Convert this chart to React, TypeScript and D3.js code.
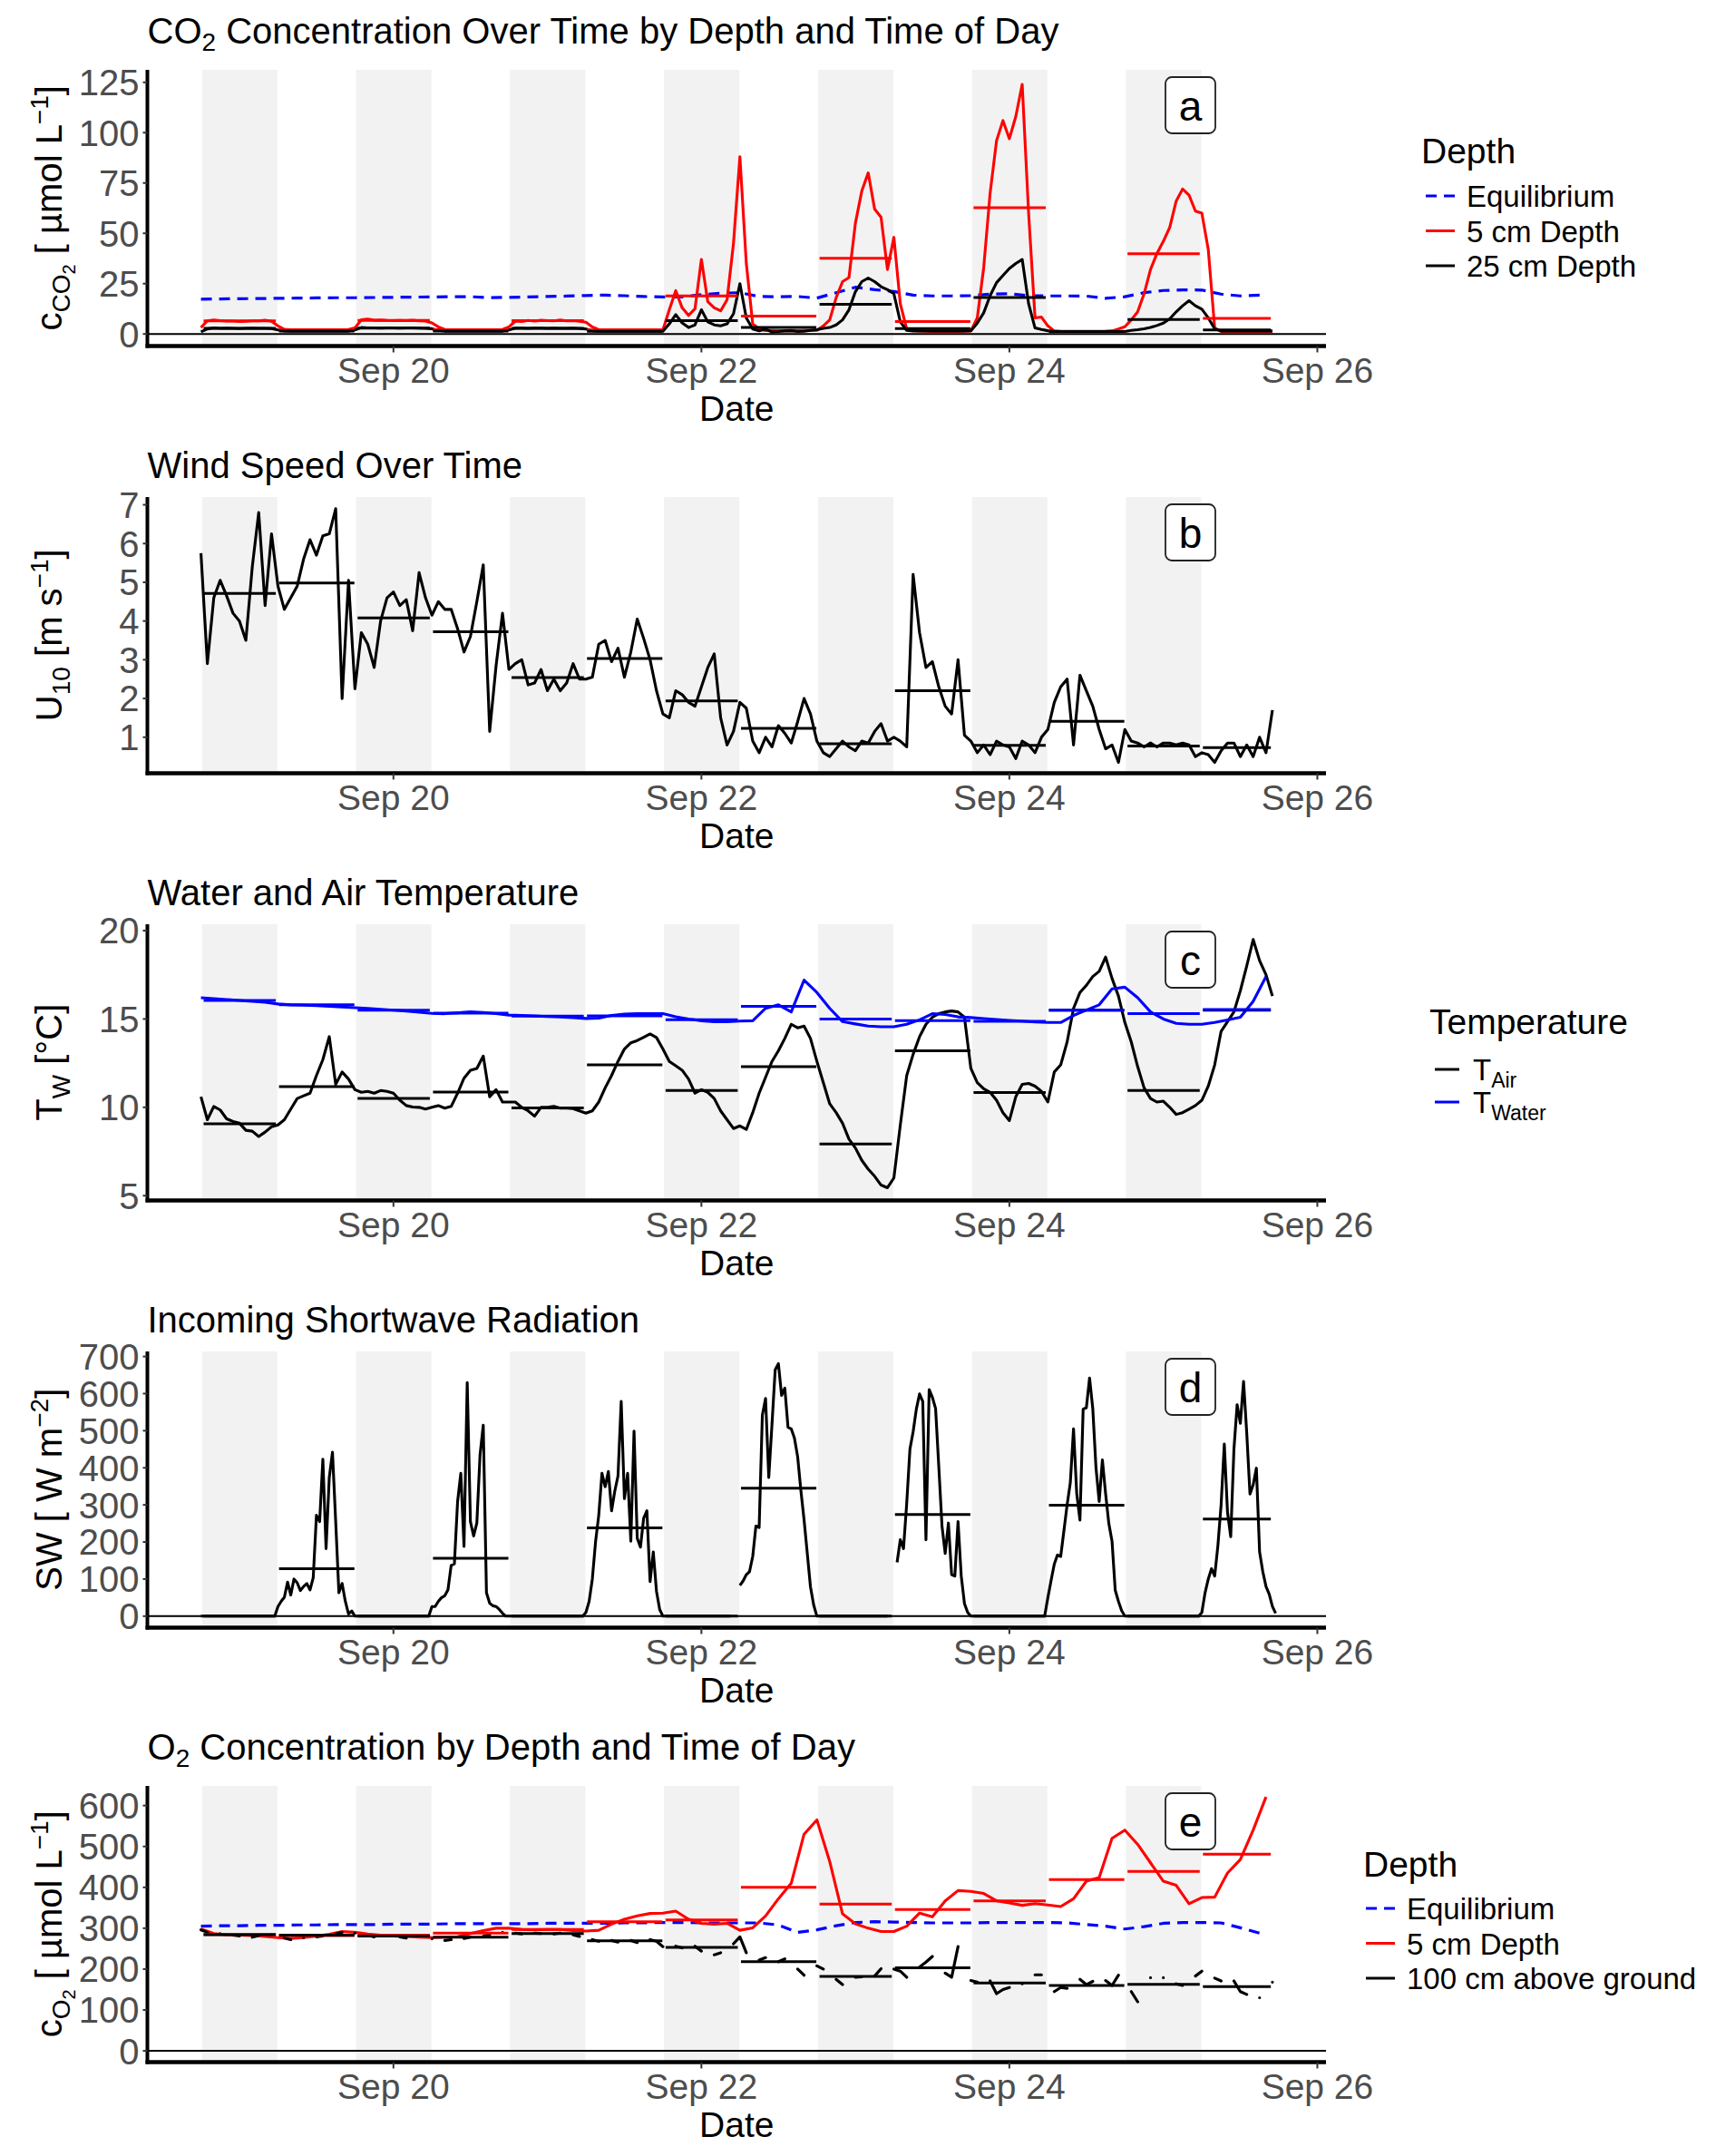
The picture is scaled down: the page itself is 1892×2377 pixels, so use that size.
import React, { useRef, useEffect } from 'react';
import * as d3 from 'd3';

// hours are counted from 18 Sep 18:00 (first sample)
const T0 = Date.UTC(2023, 8, 18, 18, 0);
const HOUR = 3600 * 1000;
const dataEndHour = 167;

const sunsets = [
  '2023-09-18T18:10:00Z', '2023-09-19T18:10:00Z', '2023-09-20T18:10:00Z', '2023-09-21T18:10:00Z',
  '2023-09-22T18:10:00Z', '2023-09-23T18:10:00Z', '2023-09-24T18:10:00Z',
];
const sunrises = [
  '2023-09-19T05:55:00Z', '2023-09-20T05:55:00Z', '2023-09-21T05:55:00Z', '2023-09-22T05:55:00Z',
  '2023-09-23T05:55:00Z', '2023-09-24T05:55:00Z', '2023-09-25T05:55:00Z',
];
const dateTicks = ['2023-09-20T00:00:00Z', '2023-09-22T00:00:00Z', '2023-09-24T00:00:00Z', '2023-09-26T00:00:00Z'];

// ---- panel a: CO2 (hourly / 3-hourly) ----
const co2Shallow = [
  3.2, 6.5, 6.9, 6.6, 6.4, 6.4, 6.2, 6.3, 6.5, 6.5,
  6.8, 6.3, 4.0, 2.3, 2.1, 2.1, 2.0, 2.1, 2.1, 2.0,
  2.0, 2.1, 2.1, 2.2, 3.0, 7.0, 7.4, 6.8, 6.9, 6.7,
  6.6, 6.7, 6.6, 6.8, 6.5, 6.4, 5.5, 3.5, 2.2, 2.1,
  2.1, 2.0, 2.1, 2.1, 2.0, 2.1, 2.0, 2.2, 3.5, 6.4,
  6.2, 6.7, 6.4, 6.8, 6.6, 6.5, 6.9, 6.5, 6.6, 6.3,
  5.8, 3.5, 2.1, 2.0, 2.0, 2.0, 2.0, 2.0, 2.0, 2.0,
  2.0, 2.0, 2.0, 12.0, 21.5, 13.0, 9.2, 12.5, 37.0, 16.0,
  13.0, 11.5, 17.0, 45.0, 88.0, 35.0, 5.0, 2.5, 1.7, 1.7,
  1.6, 1.6, 1.7, 1.6, 1.7, 1.8, 1.8, 4.0, 7.0, 18.0,
  26.0, 28.0, 55.0, 71.0, 80.0, 62.0, 58.0, 32.0, 48.0, 15.0,
  2.5, 1.7, 1.5, 1.3, 1.2, 1.2, 1.2, 1.2, 1.2, 1.3,
  1.5, 8.0, 33.0, 70.0, 96.0, 106.0, 97.0, 108.0, 124.0, 60.0,
  8.0, 8.4, 4.0, 1.5, 1.2, 1.2, 1.2, 1.2, 1.2, 1.2,
  1.2, 1.3, 1.5, 2.5, 3.6, 7.0, 11.0, 20.0, 32.0, 40.0,
  46.0, 53.0, 66.0, 72.0, 69.0, 61.0, 60.0, 42.0, 3.0, 1.2,
  1.2, 1.2, 1.2, 1.2, 1.2, 1.2, 1.2, 1.2,
];
const co2Deep = [
  1.0, 2.5, 3.0, 2.8, 2.9, 2.8, 2.7, 2.8, 2.9, 2.8,
  2.8, 2.7, 2.0, 1.5, 1.4, 1.4, 1.4, 1.4, 1.4, 1.4,
  1.4, 1.4, 1.4, 1.4, 2.0, 3.2, 3.0, 3.0, 2.9, 3.0,
  3.0, 2.9, 3.0, 3.0, 2.9, 2.8, 2.6, 1.8, 1.4, 1.4,
  1.4, 1.4, 1.4, 1.4, 1.4, 1.4, 1.4, 1.4, 2.0, 2.9,
  2.9, 2.8, 2.9, 2.9, 2.8, 2.9, 2.8, 2.8, 2.9, 2.7,
  2.5, 1.6, 1.3, 1.3, 1.3, 1.3, 1.3, 1.3, 1.3, 1.3,
  1.3, 1.3, 1.3, 5.0, 9.6, 5.5, 3.2, 4.5, 12.0, 6.0,
  4.5, 4.0, 5.0, 10.0, 25.0, 8.0, 2.4, 1.6, 2.4, 1.0,
  1.2, 1.5, 1.6, 1.2, 1.3, 1.8, 2.1, 2.8, 3.2, 4.5,
  7.0, 12.0, 21.0, 26.0, 27.8, 26.0, 23.5, 22.0, 20.0, 6.0,
  1.8, 1.5, 1.5, 1.5, 1.5, 1.5, 1.5, 1.5, 1.5, 1.5,
  1.6, 5.4, 10.5, 19.0, 25.5, 29.0, 32.5, 35.0, 37.0, 15.0,
  3.0, 2.2, 1.6, 1.2, 1.2, 1.2, 1.2, 1.2, 1.2, 1.2,
  1.2, 1.2, 1.2, 1.2, 1.2, 1.8, 2.1, 2.6, 3.2, 4.2,
  5.4, 7.5, 11.0, 14.0, 16.5, 14.0, 12.3, 8.0, 2.6, 1.5,
  1.5, 1.5, 1.5, 1.5, 1.5, 1.5, 1.5, 1.5,
];
const co2Equilibrium = [
  17.3, 17.4, 17.5, 17.6, 17.7, 17.8, 17.9, 18.0, 18.0, 18.1,
  18.2, 18.3, 18.4, 18.5, 18.5, 18.0, 18.2, 18.4, 18.6, 18.8,
  19.1, 19.3, 19.0, 18.6, 18.4, 18.4, 19.5, 20.3, 20.5, 18.6,
  18.5, 18.6, 17.8, 20.5, 23.2, 22.0, 21.1, 19.3, 18.9, 18.9,
  19.0, 19.8, 20.0, 19.0, 18.9, 18.9, 18.8, 17.7, 18.5, 20.5,
  21.6, 21.9, 21.8, 19.8, 18.9, 19.3,
];
// means per period: night1, day1, night2, day2 ... night7, day7
const co2ShallowMean = [6.5, 2.1, 6.7, 2.1, 6.6, 2.0, 18.9, 8.9, 37.6, 6.2, 62.7, 1.3, 39.9, 7.7];
const co2DeepMean = [2.8, 1.4, 2.9, 1.4, 2.8, 1.3, 6.6, 3.2, 14.7, 2.7, 18.1, 1.2, 7.2, 2.0];

// ---- panel b: wind speed (hourly) ----
const windSpeed = [
  5.75, 2.9, 4.6, 5.05, 4.65, 4.2, 4.0, 3.5, 5.4, 6.8,
  4.4, 6.25, 4.9, 4.3, 4.6, 4.9, 5.6, 6.1, 5.7, 6.2,
  6.25, 6.9, 2.0, 5.05, 2.25, 3.7, 3.4, 2.8, 4.0, 4.6,
  4.75, 4.4, 4.55, 3.75, 5.25, 4.6, 4.15, 4.5, 4.3, 4.3,
  3.8, 3.2, 3.6, 4.5, 5.45, 1.15, 2.85, 4.2, 2.75, 2.9,
  3.0, 2.35, 2.4, 2.75, 2.2, 2.5, 2.2, 2.4, 2.9, 2.5,
  2.5, 2.55, 3.4, 3.5, 2.95, 3.3, 2.55, 3.2, 4.05, 3.55,
  3.0, 2.2, 1.6, 1.5, 2.2, 2.1, 1.9, 1.8, 2.3, 2.8,
  3.15, 1.5, 0.8, 1.15, 1.9, 1.75, 0.9, 0.6, 1.0, 0.75,
  1.3, 1.1, 0.85, 1.4, 2.0, 1.6, 0.9, 0.6, 0.5, 0.7,
  0.9, 0.75, 0.65, 0.9, 0.85, 1.15, 1.35, 0.9, 1.0, 0.9,
  0.75, 5.2, 3.7, 2.8, 2.95, 2.3, 1.8, 1.6, 3.0, 1.05,
  0.9, 0.6, 0.8, 0.55, 0.9, 0.8, 0.75, 0.45, 0.9, 0.8,
  0.6, 1.0, 1.2, 1.9, 2.3, 2.5, 0.8, 2.6, 2.2, 1.8,
  1.2, 0.7, 0.8, 0.35, 1.2, 0.9, 0.85, 0.75, 0.85, 0.75,
  0.85, 0.85, 0.8, 0.85, 0.8, 0.5, 0.6, 0.55, 0.35, 0.65,
  0.85, 0.85, 0.5, 0.8, 0.5, 1.0, 0.6, 1.7,
];
const windMean = [4.71, 4.98, 4.08, 3.72, 2.54, 3.03, 1.94, 1.23, 0.83, 2.2, 0.79, 1.41, 0.77, 0.73];

// ---- panel c: temperatures (air hourly, water 2-hourly) ----
const airTemp = [
  10.6, 9.3, 10.05, 9.85, 9.35, 9.2, 9.1, 8.7, 8.65, 8.35,
  8.6, 8.9, 9.0, 9.3, 9.9, 10.5, 10.65, 10.8, 11.8, 12.7,
  14.0, 11.3, 12.0, 11.6, 11.0, 10.85, 10.9, 10.8, 10.95, 10.9,
  10.8, 10.4, 10.1, 10.02, 10.0, 9.9, 10.0, 10.1, 9.95, 10.05,
  10.8, 11.65, 12.1, 12.2, 12.9, 10.6, 11.0, 10.3, 10.3, 10.3,
  10.0, 9.8, 9.5, 10.0, 10.0, 10.05, 9.95, 9.95, 9.93, 9.8,
  9.67, 9.8, 10.3, 11.1, 11.8, 12.6, 13.3, 13.65, 13.78, 13.96,
  14.15, 13.95, 13.3, 12.6, 12.35, 12.1, 11.6, 10.8, 11.0, 10.85,
  10.5, 9.8, 9.3, 8.8, 8.95, 8.75, 9.7, 10.8, 11.7, 12.6,
  13.2, 13.9, 14.7, 14.5, 14.6, 13.9, 12.6, 11.4, 10.2, 9.7,
  9.1, 8.2, 7.7, 7.0, 6.5, 6.1, 5.6, 5.45, 6.0, 9.0,
  11.8, 13.0, 14.0, 14.7, 15.1, 15.3, 15.4, 15.45, 15.4, 15.1,
  12.2, 11.4, 11.05, 10.85, 10.4, 9.7, 9.25, 10.6, 11.3, 11.35,
  11.2, 10.9, 10.3, 12.0, 12.4, 13.7, 15.6, 16.5, 16.9, 17.4,
  17.7, 18.5, 17.3, 16.3, 14.8, 13.7, 12.3, 11.1, 10.5, 10.3,
  10.35, 10.0, 9.6, 9.7, 9.9, 10.1, 10.4, 11.2, 12.4, 14.3,
  14.85, 15.4, 16.6, 18.0, 19.5, 18.3, 17.5, 16.3,
];
const waterTemp = [
  16.2, 16.15, 16.1, 16.05, 16.0, 15.95, 15.85, 15.8, 15.78, 15.75,
  15.72, 15.68, 15.64, 15.6, 15.55, 15.5, 15.45, 15.38, 15.32, 15.3,
  15.35, 15.4, 15.37, 15.3, 15.22, 15.2, 15.17, 15.14, 15.12, 15.08,
  15.03, 15.05, 15.2, 15.28, 15.3, 15.3, 15.3, 15.12, 15.0, 14.9,
  14.85, 14.85, 14.88, 14.9, 15.6, 15.8, 15.4, 17.2, 16.5, 15.6,
  14.85, 14.72, 14.6, 14.56, 14.56, 14.7, 14.95, 15.3, 15.25, 15.12,
  15.08, 15.02, 14.97, 14.92, 14.88, 14.83, 14.8, 14.8, 15.2, 15.5,
  15.8, 16.7, 16.8, 16.2, 15.4, 15.0, 14.75, 14.7, 14.7, 14.8,
  14.95, 15.1, 16.0, 17.4,
];
const airTempMean = [9.07, 11.17, 10.5, 10.87, 9.97, 12.4, 10.96, 12.3, 7.92, 13.2, 10.84, 15.5, 10.96, 15.5];
const waterTempMean = [16.05, 15.81, 15.5, 15.33, 15.16, 15.18, 14.96, 15.71, 15.0, 14.9, 14.87, 15.5, 15.3, 15.54];

// ---- panel d: shortwave radiation (half-hourly, null = missing) ----
const shortwave = [
  0, 0, 0, 0, 0, 0, 0, 0, 0, 0, 0, 0, 0, 0, 0, 0, 0, 0, 0, 0, 0, 0, 0, 0,
  26, 40, 51, 92, 57, 100, 90, 69, 80, 88, 71, 104, 272, 255, 423, 182, 374, 442, 255, 63, 88, 40, 6, 14, 0,
  0, 0, 0, 0, 0, 0, 0, 0, 0, 0, 0, 0, 0, 0, 0, 0, 0, 0, 0, 0, 0, 0,
  0, 26, 26, 40, 50, 55, 71, 137, 141, 309, 385, 188, 630, 255, 216, 251, 435, 515, 63, 35, 28, 26, 18, 8, 0,
  0, 0, 0, 0, 0, 0, 0, 0, 0, 0, 0, 0, 0, 0, 0, 0, 0, 0, 0, 0, 0, 0, 0,
  0, 10, 40, 100, 200, 272, 385, 349, 390, 284, 337, 378, 579, 317, 385, 202, 499, 210, 186, 264, 284, 93, 173, 67, 18, 0,
  0, 0, 0, 0, 0, 0, 0, 0, 0, 0, 0, 0, 0, 0, 0, 0, 0, 0, 0, 0, 0, null, null,
  83, 95, 112, 120, 161, 243, 239, 542, 587, 374, 517, 664, 681, 595, 615, 509, 505, 480, 430, 340, 260, 170, 79, 30, 0,
  0, 0, 0, 0, 0, 0, 0, 0, 0, 0, 0, 0, 0, 0, 0, 0, 0, 0, 0, 0, 0, 0, null, null,
  145, 206, 182, 304, 450, 497, 558, 599, 579, 206, 611, 590, 560, 403, 243, 169, 251, 112, 108, 255, 108, 34, 10, 0,
  0, 0, 0, 0, 0, 0, 0, 0, 0, 0, 0, 0, 0, 0, 0, 0, 0, 0, 0, 0, 0, 0,
  0, 50, 96, 140, 165, 161, 230, 300, 360, 505, 330, 259, 558, 562, 642, 560, 400, 309, 421, 330, 250, 202, 70, 40, 15, 0,
  0, 0, 0, 0, 0, 0, 0, 0, 0, 0, 0, 0, 0, 0, 0, 0, 0, 0, 0, 0, 0, 0, 0,
  10, 63, 100, 128, 108, 190, 300, 464, 280, 214, 450, 570, 520, 633, 493, 329, 354, 399, 173, 120, 80, 59, 26, 8,
];
const shortwaveMean = [0, 128, 0, 156, 0, 238, 0, 345, 0, 274, 0, 299, 0, 262];

// ---- panel e: O2 (2-hourly, 3-hourly, hourly with gaps) ----
const o2Shallow = [
  298, 287, 284, 283, 282, 280, 277, 275, 277, 281,
  285, 292, 290, 286, 283, 281, 280, 278, 277, 278,
  279, 287, 294, 300, 300, 297, 296, 297, 297, 294,
  293, 295, 310, 322, 330, 336, 337, 342, 322, 312,
  310, 312, 295, 301, 330, 372, 410, 530, 565, 463,
  335, 311, 300, 292, 292, 305, 337, 328, 367, 392,
  390, 385, 367, 362, 356, 360, 357, 353, 372, 415,
  424, 520, 540, 505, 460, 415, 405, 360, 375, 376,
  435, 468, 540, 621,
];
const o2Equilibrium = [
  305, 306, 306, 307, 307, 308, 308, 309, 309, 309,
  310, 310, 310, 311, 311, 311, 311, 311, 312, 312,
  312, 312, 313, 313, 314, 314, 313, 313, 313, 313,
  308, 290, 296, 306, 314, 316, 315, 314, 313, 313,
  313, 314, 314, 314, 314, 313, 309, 305, 298, 304,
  312, 314, 314, 313, 301, 288,
];
const o2Air = [
  296, 290, null, 287, null, 283, 281, null, 278, 282, null, 285,
  null, 276, 272, null, 277, null, 279, 281, null, 286, 290, null,
  288, null, 283, 279, null, 281, null, 279, 276, null, 282, null,
  274, null, 270, 272, null, 275, 278, null, 280, 284, null, 290,
  null, 288, 286, null, 288, 287, null, 286, 288, null, 284, 280,
  null, 272, 268, null, 270, 266, null, 270, 265, null, 272, 268,
  255, null, 256, 252, null, 256, 244, null, 235, 240, null, 262,
  279, 240, null, 222, 228, null, 218, 225, null, 200, 185, null,
  208, 200, null, 175, 162, null, 180, 181, null, 183, 201, null,
  200, 195, 180, null, 205, 217, 231, null, 190, 180, 255, null,
  172, 168, null, 171, 140, 150, 155, null, 164, null, 186, 186,
  null, 145, 155, 153, null, 175, 162, 170, null, 172, 160, 185,
  null, 145, 120, null, 179, null, 179, null, 164, 160, null, 183,
  195, null, 178, 171, null, 171, 145, 138, null, 130, null, 168,
];
const o2ShallowMean = [285, 282, 283, 288, 297, 316, 320, 400, 359, 346, 367, 419, 439, 481];
const o2AirMean = [284, 283, 281, 278, 287, 269, 253, 218, 182, 203, 166, 160, 163, 157];

const FONT = '"Liberation Sans", Arial, Helvetica, sans-serif';
const RED = '#FF0000';
const BLUE = '#0000FF';

type Part = { t: string; size: number; shift?: number };

function richText(sel: any, parts: Part[]) {
  let prev = 0;
  parts.forEach(p => {
    const s = p.shift || 0;
    sel.append('tspan').attr('font-size', p.size).attr('dy', s - prev).text(p.t);
    prev = s;
  });
}

const toPoints = (vals: (number | null)[], step: number) =>
  vals.map((v, i) => ({ t: new Date(T0 + i * step * HOUR), v }));

export default function App() {
  const svgRef = useRef<SVGSVGElement>(null);

  useEffect(() => {
    if (!svgRef.current) return;
    const svg = d3.select(svgRef.current);
    svg.selectAll('*').remove();

    const left = 162.5, right = 1462;
    const pad = dataEndHour * 0.05;
    const x = d3.scaleUtc()
      .domain([new Date(T0 - pad * HOUR), new Date(T0 + (dataEndHour + pad) * HOUR)])
      .range([left, right]);

    // night / day periods
    const periods: [Date, Date][] = [];
    sunsets.forEach((s, k) => {
      periods.push([new Date(s), new Date(sunrises[k])]);
      const end = k < sunsets.length - 1 ? new Date(sunsets[k + 1]) : new Date(T0 + dataEndHour * HOUR);
      periods.push([new Date(sunrises[k]), end]);
    });
    const nights = periods.filter((_, i) => i % 2 === 0);

    const drawPanel = (cfg: any) => {
      const top = cfg.top, bottom = cfg.top + 304.5;
      const y = d3.scaleLinear().domain(cfg.yDomain).range([bottom, top]);
      const g = svg.append('g');

      g.selectAll('.night').data(nights).join('rect')
        .attr('x', d => x(d[0])).attr('width', d => x(d[1]) - x(d[0]))
        .attr('y', top).attr('height', bottom - top).attr('fill', '#F2F2F2');

      if (cfg.zeroLine) {
        g.append('line').attr('x1', left).attr('x2', right).attr('y1', y(0)).attr('y2', y(0))
          .attr('stroke', '#000').attr('stroke-width', 2);
      }

      cfg.lines.forEach((ln: any) => {
        const gen = d3.line<any>().defined(d => d.v != null).x(d => x(d.t)).y(d => y(d.v));
        g.append('path').datum(toPoints(ln.values, ln.step)).attr('d', gen)
          .attr('fill', 'none').attr('stroke', ln.color).attr('stroke-width', ln.width || 3.1)
          .attr('stroke-linejoin', 'round').attr('stroke-linecap', ln.cap || 'butt')
          .attr('stroke-dasharray', ln.dash || null);
      });

      cfg.means.forEach((m: any) => {
        g.selectAll(null).data(m.values.map((v: number, i: number) => ({ v, p: periods[i] }))).join('line')
          .attr('x1', (d: any) => x(new Date(d.p[0].getTime() + 0.25 * HOUR)))
          .attr('x2', (d: any) => x(new Date(d.p[1].getTime() - 0.25 * HOUR)))
          .attr('y1', (d: any) => y(d.v)).attr('y2', (d: any) => y(d.v))
          .attr('stroke', m.color).attr('stroke-width', 3);
      });

      // axes
      g.append('line').attr('x1', left).attr('x2', left).attr('y1', top).attr('y2', bottom + 2)
        .attr('stroke', '#000').attr('stroke-width', 4);
      g.append('line').attr('x1', left - 2).attr('x2', right).attr('y1', bottom).attr('y2', bottom)
        .attr('stroke', '#000').attr('stroke-width', 4.5);

      dateTicks.forEach(s => {
        const d = new Date(s);
        g.append('line').attr('x1', x(d)).attr('x2', x(d)).attr('y1', bottom).attr('y2', bottom + 7)
          .attr('stroke', '#333').attr('stroke-width', 2);
        g.append('text').attr('x', x(d)).attr('y', bottom + 40).attr('text-anchor', 'middle')
          .attr('font-family', FONT).attr('font-size', 39).attr('fill', '#4D4D4D')
          .text(d3.utcFormat('%b %d')(d));
      });
      cfg.yTicks.forEach((v: number) => {
        g.append('line').attr('x1', left - 5).attr('x2', left).attr('y1', y(v)).attr('y2', y(v))
          .attr('stroke', '#333').attr('stroke-width', 2);
        g.append('text').attr('x', left - 9).attr('y', y(v)).attr('dy', '0.36em').attr('text-anchor', 'end')
          .attr('font-family', FONT).attr('font-size', 40).attr('fill', '#4D4D4D').text(v);
      });

      g.append('text').attr('x', (left + right) / 2).attr('y', bottom + 82).attr('text-anchor', 'middle')
        .attr('font-family', FONT).attr('font-size', 39).attr('fill', '#000').text('Date');

      const title = g.append('text').attr('x', left).attr('y', cfg.titleY)
        .attr('font-family', FONT).attr('fill', '#000');
      richText(title, cfg.title);

      const yl = g.append('text').attr('transform', `translate(68,${(top + bottom) / 2}) rotate(-90)`)
        .attr('text-anchor', 'middle').attr('font-family', FONT).attr('fill', '#000');
      richText(yl, cfg.yLabel);

      // panel letter
      g.append('rect').attr('x', 1285).attr('y', top + 8).attr('width', 55).attr('height', 62)
        .attr('rx', 7).attr('fill', '#fff').attr('stroke', '#222').attr('stroke-width', 1.8);
      g.append('text').attr('x', 1312.5).attr('y', top + 39).attr('dy', '0.36em').attr('text-anchor', 'middle')
        .attr('font-family', FONT).attr('font-size', 46).attr('fill', '#000').text(cfg.letter);

      if (cfg.legend) {
        const lg = cfg.legend;
        g.append('text').attr('x', lg.x).attr('y', lg.titleY).attr('font-family', FONT)
          .attr('font-size', 39).attr('fill', '#000').text(lg.title);
        lg.items.forEach((it: any, i: number) => {
          const cy = lg.firstY + i * lg.gap;
          g.append('line').attr('x1', lg.keyX).attr('x2', lg.keyX + lg.keyW).attr('y1', cy).attr('y2', cy)
            .attr('stroke', it.color).attr('stroke-width', 3).attr('stroke-dasharray', it.dash || null);
          const t = g.append('text').attr('x', lg.textX).attr('y', cy + 12).attr('font-family', FONT)
            .attr('fill', '#000');
          richText(t, it.label);
        });
      }
    };

    const sub = (t: string, size: number, shift: number): Part => ({ t, size, shift });

    drawPanel({
      top: 77, yDomain: [-6.0, 131.2], yTicks: [0, 25, 50, 75, 100, 125], zeroLine: true, letter: 'a',
      titleY: 48,
      title: [{ t: 'CO', size: 40 }, sub('2', 28, 8), { t: ' Concentration Over Time by Depth and Time of Day', size: 40 }],
      yLabel: [{ t: 'c', size: 40 }, sub('CO', 28, 9), sub('2', 20, 15), { t: ' [ µmol L', size: 40 }, sub('−1', 28, -15), { t: ']', size: 40 }],
      lines: [
        { values: co2Equilibrium, step: 3, color: BLUE, dash: '12,8', width: 3.2 },
        { values: co2Shallow, step: 1, color: RED },
        { values: co2Deep, step: 1, color: '#000' },
      ],
      means: [{ values: co2ShallowMean, color: RED }, { values: co2DeepMean, color: '#000' }],
      legend: {
        x: 1567, titleY: 180, title: 'Depth', keyX: 1572, keyW: 32, textX: 1617, firstY: 216, gap: 38.5,
        items: [
          { label: [{ t: 'Equilibrium', size: 33 }], color: BLUE, dash: '12,8' },
          { label: [{ t: '5 cm Depth', size: 33 }], color: RED },
          { label: [{ t: '25 cm Depth', size: 33 }], color: '#000' },
        ],
      },
    });

    drawPanel({
      top: 548, yDomain: [0.07, 7.2], yTicks: [1, 2, 3, 4, 5, 6, 7], letter: 'b', titleY: 527,
      title: [{ t: 'Wind Speed Over Time', size: 40 }],
      yLabel: [{ t: 'U', size: 40 }, sub('10', 28, 9), { t: ' [m s', size: 40 }, sub('−1', 28, -15), { t: ']', size: 40 }],
      lines: [{ values: windSpeed, step: 1, color: '#000' }],
      means: [{ values: windMean, color: '#000' }],
    });

    drawPanel({
      top: 1019, yDomain: [4.73, 20.36], yTicks: [5, 10, 15, 20], letter: 'c', titleY: 998,
      title: [{ t: 'Water and Air Temperature', size: 40 }],
      yLabel: [{ t: 'T', size: 40 }, sub('W', 28, 9), { t: ' [°C]', size: 40 }],
      lines: [
        { values: airTemp, step: 1, color: '#000' },
        { values: waterTemp, step: 2, color: BLUE },
      ],
      means: [{ values: airTempMean, color: '#000' }, { values: waterTempMean, color: BLUE }],
      legend: {
        x: 1576, titleY: 1140, title: 'Temperature', keyX: 1582, keyW: 27, textX: 1624, firstY: 1179, gap: 36,
        items: [
          { label: [{ t: 'T', size: 33 }, sub('Air', 23, 8)], color: '#000' },
          { label: [{ t: 'T', size: 33 }, sub('Water', 23, 8)], color: BLUE },
        ],
      },
    });

    drawPanel({
      top: 1490, yDomain: [-31, 713.6], yTicks: [0, 100, 200, 300, 400, 500, 600, 700], zeroLine: true,
      letter: 'd', titleY: 1469,
      title: [{ t: 'Incoming Shortwave Radiation', size: 40 }],
      yLabel: [{ t: 'SW [ W m', size: 40 }, sub('−2', 28, -15), { t: ']', size: 40 }],
      lines: [{ values: shortwave, step: 0.5, color: '#000' }],
      means: [{ values: shortwaveMean, color: '#000' }],
    });

    drawPanel({
      top: 1969, yDomain: [-27.5, 648], yTicks: [0, 100, 200, 300, 400, 500, 600], zeroLine: true,
      letter: 'e', titleY: 1940,
      title: [{ t: 'O', size: 40 }, sub('2', 28, 8), { t: ' Concentration by Depth and Time of Day', size: 40 }],
      yLabel: [{ t: 'c', size: 40 }, sub('O', 28, 9), sub('2', 20, 15), { t: ' [ µmol L', size: 40 }, sub('−1', 28, -15), { t: ']', size: 40 }],
      lines: [
        { values: o2Equilibrium, step: 3, color: BLUE, dash: '12,8', width: 3.2 },
        { values: o2Shallow, step: 2, color: RED },
        { values: o2Air, step: 1, color: '#000', width: 3.2, cap: 'round' },
      ],
      means: [{ values: o2ShallowMean, color: RED }, { values: o2AirMean, color: '#000' }],
      legend: {
        x: 1503, titleY: 2069, title: 'Depth', keyX: 1506, keyW: 32, textX: 1551, firstY: 2104, gap: 38.5,
        items: [
          { label: [{ t: 'Equilibrium', size: 33 }], color: BLUE, dash: '12,8' },
          { label: [{ t: '5 cm Depth', size: 33 }], color: RED },
          { label: [{ t: '100 cm above ground', size: 33 }], color: '#000' },
        ],
      },
    });
  }, []);

  return (
    <svg ref={svgRef} width={1892} height={2377}
      style={{ position: 'absolute', left: 0, top: 0, background: '#fff' }} />
  );
}
